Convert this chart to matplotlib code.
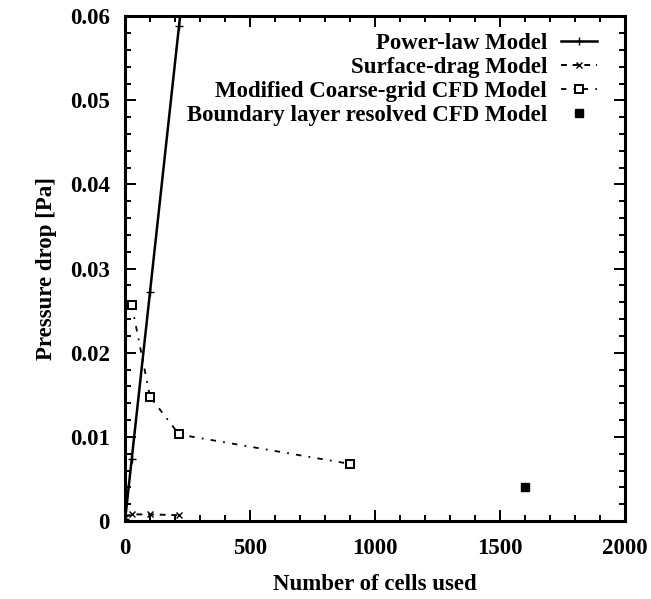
import matplotlib
matplotlib.use("Agg")
import matplotlib.pyplot as plt
from matplotlib.ticker import MultipleLocator

plt.rcParams["font.family"] = ["Liberation Serif", "DejaVu Serif"]
plt.rcParams["font.weight"] = "bold"
plt.rcParams["axes.labelweight"] = "bold"

# data
power_x = [1, 27, 100, 216, 900]
power_y = [0.0003, 0.0074, 0.0272, 0.0588, 0.245]
drag_x = [1, 27, 100, 216]
drag_y = [0.0005, 0.0008, 0.0008, 0.0007]
coarse_x = [27, 100, 216, 900]
coarse_y = [0.0257, 0.0148, 0.0103, 0.0068]
bl_x = [1600]
bl_y = [0.0041]

FS = 16.5

fig = plt.figure(figsize=(6.51, 5.99), dpi=100)
ax = fig.add_axes([0.192, 0.130, 0.768, 0.843])

ax.plot(power_x, power_y, color="black", lw=1.8, marker="+", ms=6,
        label="Power-law Model")
ax.plot(drag_x, drag_y, color="black", lw=1.4, ls=(0, (3, 3)), marker="x",
        ms=4, label="Surface-drag Model")
ax.plot(coarse_x, coarse_y, color="black", lw=1.3, ls=(0, (3, 4, 1, 4)),
        marker="s", ms=6, mfc="white", mew=1.4,
        label="Modified Coarse-grid CFD Model")
ax.plot(bl_x, bl_y, color="black", ls="none", marker="s", ms=6,
        label="Boundary layer resolved CFD Model")

ax.set_xlim(0, 2000)
ax.set_ylim(0, 0.06)
ax.xaxis.set_major_locator(MultipleLocator(500))
ax.xaxis.set_minor_locator(MultipleLocator(100))
ax.yaxis.set_major_locator(MultipleLocator(0.01))
ax.yaxis.set_minor_locator(MultipleLocator(0.002))
ax.yaxis.set_major_formatter(plt.FuncFormatter(lambda v, p: "0" if v == 0 else "%g" % v))
ax.tick_params(which="both", direction="in", top=True, right=True,
               labelsize=FS, width=1.4)
ax.tick_params(axis="x", which="major", length=8, pad=12)
ax.tick_params(axis="y", which="major", length=8, pad=11)
ax.tick_params(which="minor", length=4)
for s in ax.spines.values():
    s.set_linewidth(2.2)

ax.set_xlabel("Number of cells used", fontsize=FS, labelpad=11)
ax.set_ylabel("Pressure drop [Pa]", fontsize=FS, labelpad=9)

ax.legend(loc="upper right", bbox_to_anchor=(0.945, 0.966), markerfirst=False,
          frameon=False, fontsize=FS, handlelength=1.6, borderaxespad=0,
          borderpad=0, labelspacing=0.12, handletextpad=0.6)

fig.savefig("out.png", dpi=100)
